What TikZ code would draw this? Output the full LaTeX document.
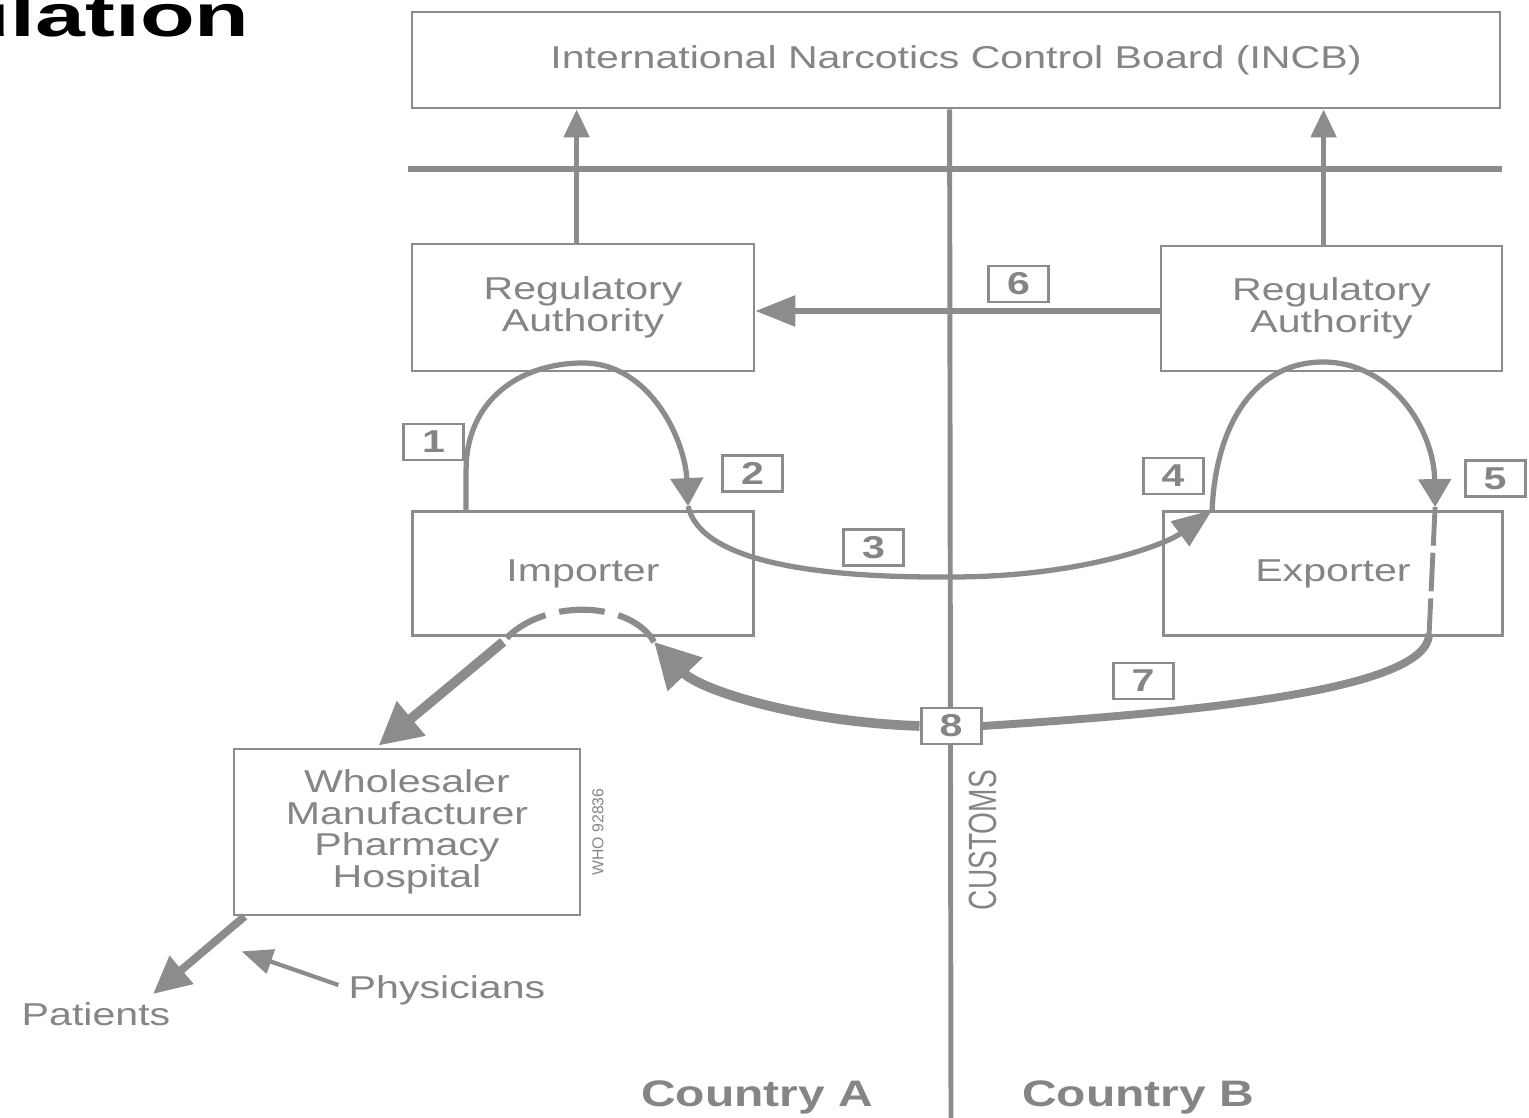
\documentclass[tikz,border=0pt]{standalone}
\usepackage{fontspec}
\setmainfont{Liberation Sans}[FakeStretch=1.3]
\newfontfamily\plainsans{Liberation Sans}
\newfontfamily\titlefont{Liberation Sans}[FakeStretch=1.5]
\usetikzlibrary{arrows.meta,calc}
\definecolor{lg}{HTML}{8C8C8C}
\definecolor{tg}{HTML}{858585}
\def\pxu{0.02cm}
\pgfdeclarelayer{fg}
\pgfsetlayers{main,fg}
\begin{document}
\begin{tikzpicture}[x=0.02cm,y=-0.02cm,
  box/.style={draw=lg,line width=1.6pt,fill=white,inner sep=0pt,align=center,text=tg,font=\fontsize{18}{18}\selectfont},
  num/.style={draw=lg,line width=1.7pt,fill=white,inner sep=0pt,minimum width=60*\pxu,minimum height=36*\pxu,text=tg,font=\fontsize{18}{18}\selectfont\bfseries},
  lbl/.style={inner sep=0pt,text=tg,font=\fontsize{18}{18}\selectfont},
  ln/.style={draw=lg,line width=3pt},
  looparrow/.style={draw=lg,line width=3pt,-{Triangle[length=0.56cm,width=0.64cm]}},
]
\useasboundingbox (0,0) rectangle (1529,1118);
\fill[white] (0,0) rectangle (1529,1118);

% title (cut off)
\node[anchor=base east,inner sep=0pt,text=black,font=\titlefont\bfseries\fontsize{34}{34}\selectfont] (title) at (250,37) {Regulation};

% main boxes
\node[box,minimum width=1088*\pxu,minimum height=96*\pxu] (incb) at (956,60) {International Narcotics Control Board (INCB)};
\node[box,minimum width=342*\pxu,minimum height=127*\pxu] (ra1) at (583,307.5) {Regulatory\\Authority};
\node[box,minimum width=341*\pxu,minimum height=125*\pxu] (ra2) at (1331.5,308.5) {Regulatory\\Authority};
\node[box,minimum width=341*\pxu,minimum height=124*\pxu] (imp) at (583,573.5) {Importer};
\node[box,minimum width=339*\pxu,minimum height=124*\pxu] (exp) at (1333,573.5) {Exporter};
\node[box,minimum width=346*\pxu,minimum height=166*\pxu] (whs) at (407,832) {Wholesaler\\Manufacturer\\Pharmacy\\Hospital};

% number boxes (foreground)
\begin{pgfonlayer}{fg}
\node[num] (n1) at (433.5,442) {1};
\node[num] (n2) at (752.5,473.5) {2};
\node[num] (n3) at (873.5,547.5) {3};
\node[num] (n4) at (1173,476) {4};
\node[num] (n5) at (1495,478.5) {5};
\node[num] (n6) at (1018.5,284) {6};
\node[num] (n7) at (1143,681) {7};
\node[num] (n8) at (951,726) {8};
\end{pgfonlayer}

% labels
\node[lbl] (pat) at (96,1014) {Patients};
\node[lbl] (phy) at (447,990) {Physicians};
\node[inner sep=0pt,text=tg,font=\bfseries\fontsize{21}{21}\selectfont] (ca) at (757,1097) {Country A};
\node[inner sep=0pt,text=tg,font=\bfseries\fontsize{21}{21}\selectfont] (cb) at (1138,1097) {Country B};
\node[inner sep=0pt,text=tg,rotate=90,yscale=1.4,font=\plainsans\fontsize{16}{16}\selectfont] (cust) at (983,840) {CUSTOMS};
\node[inner sep=0pt,text=tg,rotate=90,font=\plainsans\fontsize{9}{9}\selectfont] (who) at (598,832) {WHO 92836};

% coordinates
\coordinate (hl) at (408,169);
\coordinate (hr) at (1502,169);
\coordinate (cbot) at (951,1122);
\coordinate (l1s) at ($(imp.north west)+(55,0)$);
\coordinate (l2e) at ($(imp.north west)+(277,-4)$);
\coordinate (r4e) at ($(exp.north west)+(50,0)$);
\coordinate (r5e) at ($(exp.north west)+(273,-3)$);
\coordinate (ex7) at ($(exp.south west)+(267,-3)$);
\coordinate (ia) at ($(imp.south west)+(243,5)$);
\coordinate (ib) at ($(imp.south west)+(92,5)$);

% structural lines
\draw[draw=lg,line width=3.4pt] (hl) -- (hr);
\draw[draw=lg,line width=2.8pt] ($(incb.south west)+(539,0)$) -- (cbot);
\draw[ln,-{Triangle[length=0.56cm,width=0.5cm]}] ($(ra1.north west)+(166,0)$) -- ($(incb.south west)+(166,0)$);
\draw[ln,-{Triangle[length=0.56cm,width=0.5cm]}] ($(ra2.north west)+(164,0)$) -- ($(incb.south west)+(913,0)$);
\draw[draw=lg,line width=3.2pt,-{Triangle[length=0.8cm,width=0.6cm]}] ($(ra2.west)+(0,2.5)$) -- ($(ra1.east)+(0,3.5)$);

% loops 1-2, 3, 4-5
\draw[looparrow] (l1s) -- ++(0,-40) .. controls +(0,-70) and (520,363) .. (583,363) .. controls (650,363) and (685,440) .. (l2e);
\draw[draw=lg,line width=3pt,-{Triangle[length=0.8cm,width=0.6cm]}] (l2e) .. controls (700,560) and (810,578) .. (951,577) .. controls (1080,577) and (1165,545) .. (r4e);
\draw[looparrow] (r4e) .. controls (1216,420) and (1258,362) .. (1323,362) .. controls (1392,362) and (1434,430) .. (r5e);

% 5 -> 7 -> 8 -> importer
\draw[draw=lg,line width=2.8pt,dash pattern=on 22pt off 4pt] (r5e) -- (ex7);
\draw[draw=lg,line width=4.5pt] (ex7) .. controls (1428,690) and (1200,712) .. (n8.east);
\draw[draw=lg,line width=5.5pt,-{Triangle[length=0.9cm,width=0.92cm]}] (n8.west) .. controls (800,722) and (700,690) .. (ia);
\draw[draw=lg,line width=3.5pt,dash pattern=on 26pt off 8pt] (ia) .. controls (630,600) and (540,598) .. (ib);
\draw[draw=lg,line width=5.5pt,-{Triangle[length=0.85cm,width=0.85cm]}] (ib) -- ($(whs.north west)+(146,-2)$);

% to patients / from physicians
\draw[draw=lg,line width=4.5pt,-{Triangle[length=0.75cm,width=0.7cm]}] ($(whs.south west)+(12,0)$) -- ($(pat.north)+(57,-8)$);
\draw[draw=lg,line width=2.4pt,-{Triangle[length=0.62cm,width=0.5cm]}] ($(phy.west)+(-10,-5)$) -- ($(whs.south west)+(9,35)$);
\end{tikzpicture}
\end{document}
